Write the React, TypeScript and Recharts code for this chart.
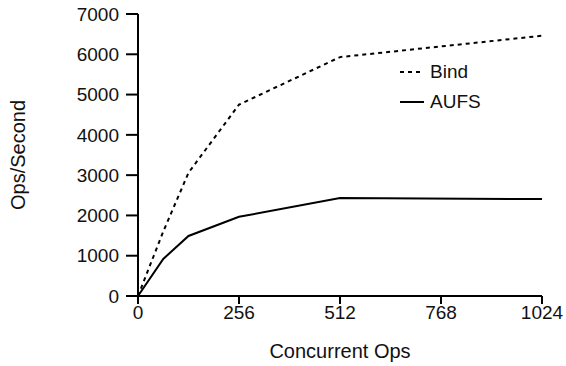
import React from 'react';
import { LineChart, Line, XAxis, YAxis } from 'recharts';

const concurrentOps = [0, 64, 128, 256, 512, 1024];
const bindOps = [0, 1600, 3060, 4750, 5930, 6460];
const aufsOps = [0, 920, 1490, 1965, 2430, 2405];
const xTicks = [0, 256, 512, 768, 1024];
const yTicks = [0, 1000, 2000, 3000, 4000, 5000, 6000, 7000];
const seriesNames = ['Bind', 'AUFS'];

const data = concurrentOps.map((x, i) => ({ x, bind: bindOps[i], aufs: aufsOps[i] }));

const FONT = '"Liberation Sans", Arial, Helvetica, sans-serif';

// legend drawn on top of the chart, inside the plot area
const LegendBox = () => (
  <svg width={120} height={60} style={{ position: 'absolute', left: 398, top: 58 }}>
    <line x1={2} x2={26} y1={14} y2={14} stroke="#000" strokeWidth={2} strokeDasharray="4 4" />
    <text x={32} y={20} fontSize={19} fontFamily={FONT} fill="#111">{seriesNames[0]}</text>
    <line x1={2} x2={26} y1={44} y2={44} stroke="#000" strokeWidth={2} />
    <text x={32} y={50} fontSize={19} fontFamily={FONT} fill="#111">{seriesNames[1]}</text>
  </svg>
);

export default function App() {
  const tickStyle = { fontSize: 19, fontFamily: FONT, fill: '#111' };
  const labelStyle = { fontSize: 20, fontFamily: FONT, fill: '#111' };
  return (
    <div style={{ position: 'absolute', left: 0, top: 0, width: 566, height: 366, background: '#fff' }}>
      <LineChart width={566} height={366} data={data} margin={{ top: 14, right: 24, bottom: 0, left: 0 }}>
        <XAxis
          dataKey="x"
          type="number"
          domain={[0, 1024]}
          ticks={xTicks}
          height={70}
          tickSize={8}
          tickMargin={2}
          stroke="#000"
          strokeWidth={2}
          tick={tickStyle}
          label={{ value: 'Concurrent Ops', position: 'insideBottom', offset: 8, style: labelStyle }}
        />
        <YAxis
          type="number"
          domain={[0, 7000]}
          ticks={yTicks}
          width={138}
          tickSize={12}
          tickMargin={7}
          stroke="#000"
          strokeWidth={2}
          tick={tickStyle}
          label={{ value: 'Ops/Second', angle: -90, position: 'insideLeft', offset: 18, style: { ...labelStyle, textAnchor: 'middle' } }}
        />
        <Line
          type="linear"
          dataKey="bind"
          name={seriesNames[0]}
          stroke="#000"
          strokeWidth={2}
          strokeDasharray="4 4"
          dot={false}
          isAnimationActive={false}
        />
        <Line
          type="linear"
          dataKey="aufs"
          name={seriesNames[1]}
          stroke="#000"
          strokeWidth={2}
          dot={false}
          isAnimationActive={false}
        />
      </LineChart>
      <LegendBox />
    </div>
  );
}
